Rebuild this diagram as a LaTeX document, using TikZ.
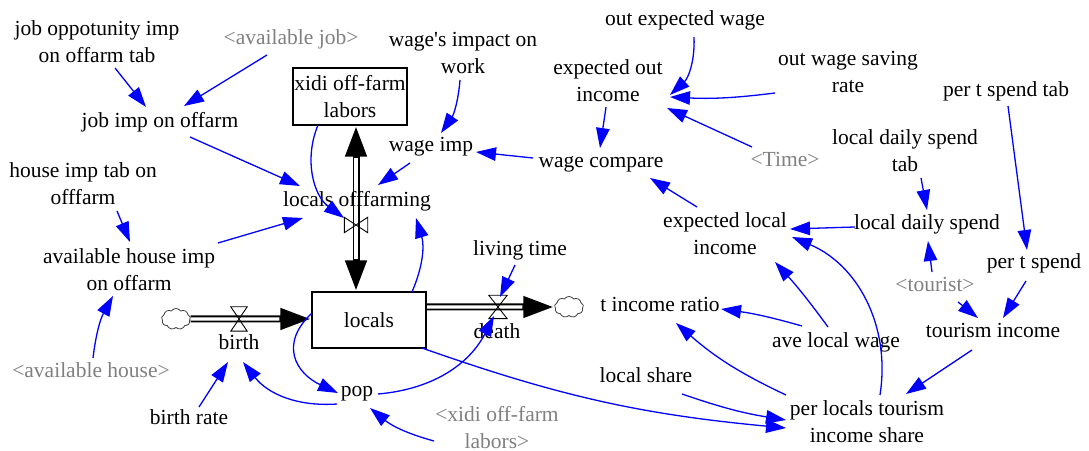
\documentclass[tikz,border=0pt]{standalone}
\usepackage{fontspec}
\setmainfont{Liberation Serif}[Ligatures=TeXOff]
\usetikzlibrary{arrows.meta,shapes.symbols}
\definecolor{linkblue}{RGB}{0,0,255}
\definecolor{shadowgray}{RGB}{128,128,128}
\begin{document}
\begin{tikzpicture}[x=1bp,y=-1bp,
  every node/.style={font=\fontsize{21.5bp}{27bp}\selectfont},
  lbl/.style={inner sep=0pt, text height=14.5bp, text depth=4.5bp},
  lbltwo/.style={inner sep=0pt, align=center},
  shadow/.style={text=shadowgray},
  stock/.style={draw, line width=1.2bp, minimum width=114bp, minimum height=57bp, align=center, inner sep=0pt},
  link/.style={draw=linkblue, line width=1.3bp, -{Triangle[length=20bp,width=13.5bp]}},
  pipeouter/.style={line width=7bp, -{Triangle[length=31bp,width=20bp]}},
  pipeinner/.style={line width=3.4bp, white, shorten >=32bp},
  valveshape/.style={line width=0.9bp},
  source/.style={cloud, cloud puffs=9, cloud puff arc=110, draw=black!75, line width=0.8bp,
    minimum width=29bp, minimum height=21bp, inner sep=0pt}
]
\fill[white] (0,0) rectangle (1089,451);
\useasboundingbox (0,0) rectangle (1089,451);

% ---------- stocks ----------
\node[stock] (xidi) at (350,96.5) {xidi off-farm\\labors};
\node[stock, minimum height=56bp] (locals) at (369,320) {locals};

% ---------- sources / sinks and valves ----------
\node[source] (cl) at (176,319) {};
\node[source] (cr) at (569,307) {};
\node[inner sep=0pt, minimum width=16bp, minimum height=24bp] (bvalve) at (239,319) {};
\node[inner sep=0pt, minimum width=23bp, minimum height=15bp] (vvalve) at (356,225) {};
\node[inner sep=0pt, minimum width=18bp, minimum height=23bp] (dvalve) at (498,307) {};

% ---------- flow pipes ----------
\draw[pipeouter] (cl) -- (locals.west |- cl);
\draw[pipeinner] (cl) -- (locals.west |- cl);
\draw[pipeouter] (locals.east |- cr) -- (cr);
\draw[pipeinner, shorten <=0.6bp] (locals.east |- cr) -- (cr);
\draw[pipeouter, {Triangle[length=31bp,width=20bp]}-{Triangle[length=31bp,width=20bp]}]
  (locals.north -| vvalve) -- (xidi.south -| vvalve);
\draw[pipeinner, shorten <=32bp] (locals.north -| vvalve) -- (xidi.south -| vvalve);

\draw[valveshape] (bvalve.north west) -- (bvalve.north east) -- (bvalve.south west) -- (bvalve.south east) -- cycle;
\draw[valveshape] (dvalve.north west) -- (dvalve.north east) -- (dvalve.south west) -- (dvalve.south east) -- cycle;
\draw[valveshape] (vvalve.north west) -- (vvalve.south west) -- (vvalve.north east) -- (vvalve.south east) -- cycle;

% ---------- variables ----------
\node[lbltwo] (jot) at (97,42) {job oppotunity imp\\on offarm tab};
\node[lbl, shadow] (avjob) at (291,40) {<available job>};
\node[lbltwo] (wimpact) at (463,53) {wage's impact on\\work};
\node[lbl] (oew) at (685,21) {out expected wage};
\node[lbltwo] (eoi) at (608,81) {expected out\\income};
\node[lbltwo] (owsr) at (848,72) {out wage saving\\rate};
\node[lbl] (ptst) at (1006,92) {per t spend tab};
\node[lbltwo] (ldst) at (905,151) {local daily spend\\tab};
\node[lbl, shadow] (time) at (785,162) {<Time>};
\node[lbl] (jimp) at (160,123) {job imp on offarm};
\node[lbl] (wimp) at (431,147) {wage imp};
\node[lbl] (wcomp) at (601,163) {wage compare};
\node[lbltwo] (hitab) at (83,184) {house imp tab on\\offfarm};
\node[lbl] (loff) at (357,202) {locals offfarming};
\node[lbltwo] (eli) at (725,234) {expected local\\income};
\node[lbl] (lds) at (927,225) {local daily spend};
\node[lbltwo] (avhi) at (129,270) {available house imp\\on offarm};
\node[lbl] (ltime) at (520,251) {living time};
\node[lbl] (pts) at (1034,264) {per t spend};
\node[lbl] (death) at (497,334) {death};
\node[lbl] (birth) at (239,345) {birth};
\node[lbl] (tir) at (660,307) {t income ratio};
\node[lbl, shadow] (tourist) at (935,287) {<tourist>};
\node[lbl] (ti) at (993,333) {tourism income};
\node[lbl] (alw) at (836,343) {ave local wage};
\node[lbl, shadow] (avh) at (91,373) {<available house>};
\node[lbl] (lsh) at (646,378) {local share};
\node[lbl] (pop) at (357,392) {pop};
\node[lbl] (brate) at (189,420) {birth rate};
\node[lbltwo] (plts) at (867,422) {per locals tourism\\income share};
\node[lbltwo, shadow] (xlab) at (497,428) {<xidi off-farm\\labors>};

% ---------- information links ----------
\draw[link] ([shift={(18,26)}]jot.center) -- ([shift={(-14,-16)}]jimp.center);
\draw[link] ([shift={(-24,15)}]avjob.center) -- ([shift={(24,-17)}]jimp.center);
\draw[link] ([shift={(30,14)}]jimp.center) -- ([shift={(-57,-16)}]loff.center);
\draw[link] ([shift={(-3,27)}]wimpact.center) to[bend left=15] ([shift={(10,-14)}]wimp.center);
\draw[link] ([shift={(-32,28.5)}]xidi.center) to[bend right=38] ([shift={(-12,-7)}]vvalve.center);
\draw[link] ([shift={(-21,16)}]wimp.center) -- ([shift={(21,-17)}]loff.center);
\draw[link] ([shift={(-68,-5)}]wcomp.center) -- ([shift={(45,5)}]wimp.center);
\draw[link] ([shift={(-2,26)}]eoi.center) -- ([shift={(-1,-15)}]wcomp.center);
\draw[link] ([shift={(9,16)}]oew.center) to[bend left=25] ([shift={(62,14)}]eoi.center);
\draw[link] ([shift={(-73,21)}]owsr.center) to[bend left=5] ([shift={(62,16)}]eoi.center);
\draw[link] ([shift={(-33,-15)}]time.center) -- ([shift={(59,27)}]eoi.center);
\draw[link] ([shift={(-28,-27)}]eli.center) -- ([shift={(49,15)}]wcomp.center);
\draw[link] ([shift={(16,27)}]ldst.center) -- ([shift={(0,-15)}]lds.center);
\draw[link] ([shift={(-72,2)}]lds.center) -- ([shift={(65,-5)}]eli.center);
\draw[link] ([shift={(2,14)}]ptst.center) -- ([shift={(-7,-14)}]pts.center);
\draw[link] ([shift={(-3,-15)}]tourist.center) -- ([shift={(1,16)}]lds.center);
\draw[link] ([shift={(23,15)}]tourist.center) -- ([shift={(-15,-15)}]ti.center);
\draw[link] ([shift={(-8,17)}]pts.center) -- ([shift={(10,-15)}]ti.center);
\draw[link] ([shift={(-21,17)}]ti.center) -- ([shift={(39,-28)}]plts.center);
\draw[link] ([shift={(-8,-16)}]alw.center) to[bend right=3] ([shift={(50,28)}]eli.center);
\draw[link] ([shift={(-34,-17)}]alw.center) to[bend right=4] ([shift={(61,2)}]tir.center);
\draw[link] ([shift={(13,-27)}]plts.center) to[bend right=38] ([shift={(67,3)}]eli.center);
\draw[link] ([shift={(-81,-27)}]plts.center) to[bend left=8] ([shift={(16,16)}]tir.center);
\draw[link] ([shift={(36,16)}]lsh.center) to[bend right=5] ([shift={(-81,-2)}]plts.center);
\draw[link] ([shift={(53,28)}]locals.center) to[bend right=7] ([shift={(-81,6)}]plts.center);
\draw[link] ([shift={(34,27)}]hitab.center) -- ([shift={(1,-28)}]avhi.center);
\draw[link] ([shift={(89,-27)}]avhi.center) -- ([shift={(-54,16)}]loff.center);
\draw[link] ([shift={(2,-15)}]avh.center) to[bend left=11] ([shift={(-16,26)}]avhi.center);
\draw[link] ([shift={(43,-28)}]locals.center) to[bend right=20] ([shift={(59,16)}]loff.center);
\draw[link] ([shift={(-5,14)}]ltime.center) -- ([shift={(2,-10)}]dvalve.center);
\draw[link] ([shift={(-57,-7)}]locals.center) to[out=223,in=155,looseness=1.4] ([shift={(-19,1)}]pop.center);
\draw[link] ([shift={(21,2)}]pop.center) to[bend right=29] ([shift={(-4,9)}]dvalve.center);
\draw[link] ([shift={(-20,12)}]pop.center) to[bend left=28] ([shift={(4,17)}]birth.center);
\draw[link] ([shift={(10,-13)}]brate.center) -- ([shift={(-11,17)}]birth.center);
\draw[link] ([shift={(-63,13)}]xlab.center) to[bend left=12] ([shift={(13,16)}]pop.center);
\end{tikzpicture}
\end{document}
